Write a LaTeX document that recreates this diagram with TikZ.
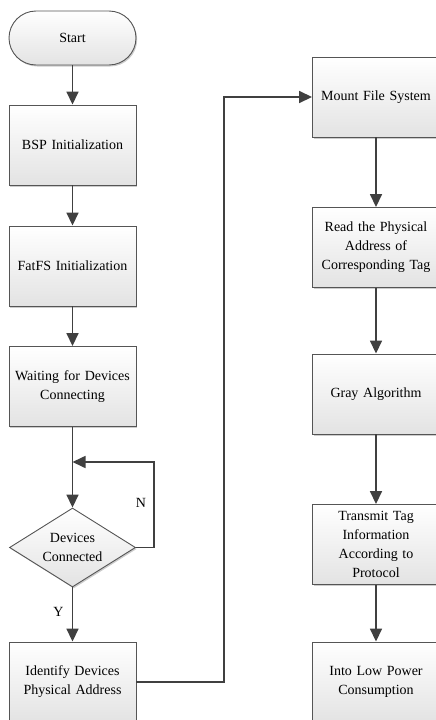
\documentclass[tikz,border=0pt]{standalone}
\usepackage{fontspec}
\setmainfont{Liberation Serif}
\usetikzlibrary{shapes.geometric,arrows.meta,shadows}
\definecolor{edge}{HTML}{555555}
\definecolor{arrc}{HTML}{404040}
\tikzset{
  boxbase/.style={draw=edge, line width=0.9pt, top color=white, bottom color=black!11,
    drop shadow={shadow xshift=1.2pt, shadow yshift=-1.5pt, fill=black!40, opacity=.5},
    align=center, font=\fontsize{14}{19}\selectfont, inner sep=2pt},
  procbox/.style={boxbase, rectangle, minimum width=127pt, minimum height=80pt, text width=123pt},
  termbox/.style={boxbase, rectangle, rounded corners=27pt, minimum width=127pt, minimum height=54pt},
  decbox/.style={boxbase, diamond, aspect=1.6, minimum width=126pt, minimum height=79pt, inner sep=0pt},
  arr/.style={draw=arrc, line width=1.6pt, -{Triangle[length=13pt,width=12pt]}},
  lbl/.style={font=\fontsize{14}{17}\selectfont}
}
\begin{document}
\begin{tikzpicture}[x=1pt,y=-1pt]
\useasboundingbox (0,0) rectangle (436,720);
% left column
\node[termbox] (start) at (72.5,38) {Start};
\node[procbox] (bsp) at (72.5,145) {BSP Initialization};
\node[procbox] (fatfs) at (72.5,266) {FatFS Initialization};
\node[procbox] (wait) at (72.5,386.5) {Waiting for Devices\\Connecting};
\node[decbox] (dec) at (72.5,547.5) {Devices\\Connected};
\node[procbox] (ident) at (72.5,682) {Identify Devices\\Physical Address};
% right column
\node[procbox] (mount) at (376,97) {Mount File System};
\node[procbox] (read) at (376,247.5) {Read the Physical\\Address of\\Corresponding Tag};
\node[procbox] (gray) at (376,394) {Gray Algorithm};
\node[procbox] (trans) at (376,544.5) {Transmit Tag\\Information\\According to\\Protocol};
\node[procbox] (low) at (376,682) {Into Low Power\\Consumption};
% connectors
\coordinate (loopin) at (72.5,462);
\draw[arr] (start) -- (bsp);
\draw[arr] (bsp) -- (fatfs);
\draw[arr] (fatfs) -- (wait);
\draw[arr] (wait.south) -- (dec.north);
\draw[arr] (dec.east) -- (154,547.5) |- (loopin);
\draw[arr] (dec) -- (ident);
\draw[arr] (ident.east) -- (224,682) |- (mount.west);
\draw[arr] (mount) -- (read);
\draw[arr] (read) -- (gray);
\draw[arr] (gray) -- (trans);
\draw[arr] (trans) -- (low);
% labels
\node[lbl] (nlab) at (141,503) {N};
\node[lbl] (ylab) at (58.5,612) {Y};
\end{tikzpicture}
\end{document}
